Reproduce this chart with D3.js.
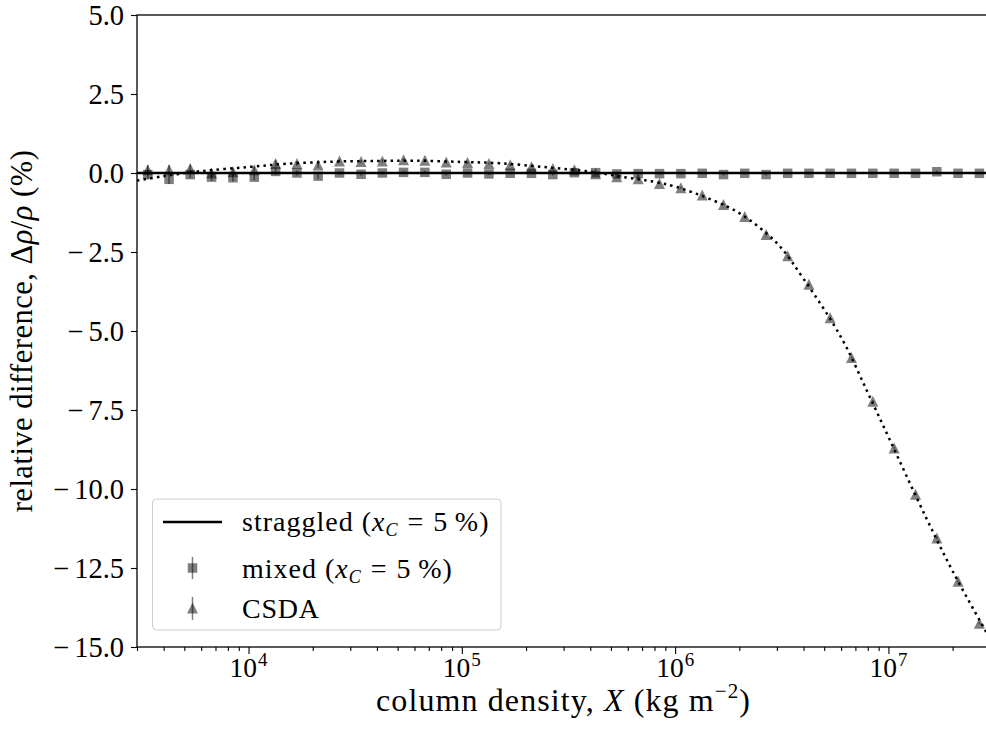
<!DOCTYPE html>
<html>
<head>
<meta charset="utf-8">
<script src="https://cdn.jsdelivr.net/npm/d3@7"></script>
<style>
  html, body { margin: 0; padding: 0; background: #fff; }
  svg { display: block; }
  svg text { font-family: "Liberation Serif", serif; fill: #000; }
</style>
</head>
<body>
<svg id="chart" width="986" height="734"></svg>
<script>
// ---------------- data ----------------
const columnDensity = [3.37e3, 4.24e3, 5.33e3, 6.71e3, 8.45e3, 1.064e4, 1.34e4, 1.686e4, 2.12e4, 2.67e4,
  3.37e4, 4.24e4, 5.33e4, 6.71e4, 8.45e4, 1.064e5, 1.34e5, 1.686e5, 2.12e5, 2.67e5,
  3.37e5, 4.24e5, 5.33e5, 6.71e5, 8.45e5, 1.064e6, 1.34e6, 1.686e6, 2.12e6, 2.67e6,
  3.37e6, 4.24e6, 5.33e6, 6.71e6, 8.45e6, 1.064e7, 1.34e7, 1.686e7, 2.12e7, 2.67e7];
const mixedValues = [-0.05, -0.2, -0.05, -0.13, -0.15, -0.13, 0.05, 0.0, -0.1, 0.0,
  -0.04, 0.0, 0.02, 0.02, -0.04, 0.0, -0.03, -0.01, -0.01, -0.05,
  0.01, 0.01, -0.03, -0.02, -0.02, -0.02, -0.01, -0.05, -0.01, -0.05,
  -0.01, -0.01, -0.01, -0.01, -0.01, -0.01, -0.01, 0.04, -0.01, -0.01];
const mixedErrors = [0.15, 0.15, 0.12, 0.12, 0.12, 0.1, 0.1, 0.08, 0.08, 0.06,
  0.05, 0.05, 0.05, 0.04, 0.04, 0.04, 0.03, 0.03, 0.03, 0.03,
  0.03, 0.03, 0.03, 0.03, 0.03, 0.03, 0.03, 0.03, 0.03, 0.03,
  0.03, 0.03, 0.03, 0.03, 0.03, 0.03, 0.03, 0.03, 0.03, 0.03];
const csdaValues = [0.1, 0.1, 0.14, 0.0, 0.04, 0.1, 0.3, 0.3, 0.25, 0.38,
  0.36, 0.38, 0.42, 0.4, 0.35, 0.33, 0.3, 0.26, 0.2, 0.14,
  0.1, -0.02, -0.12, -0.18, -0.33, -0.47, -0.7, -1.0, -1.38, -1.95,
  -2.62, -3.52, -4.58, -5.84, -7.22, -8.7, -10.17, -11.55, -12.92, -14.25];
const csdaErrors = [0.15, 0.15, 0.12, 0.12, 0.12, 0.1, 0.1, 0.08, 0.08, 0.06,
  0.05, 0.05, 0.05, 0.04, 0.04, 0.04, 0.03, 0.03, 0.03, 0.03,
  0.03, 0.03, 0.03, 0.03, 0.03, 0.03, 0.03, 0.03, 0.03, 0.03,
  0.03, 0.03, 0.03, 0.03, 0.03, 0.03, 0.03, 0.03, 0.03, 0.03];
const straggledX = [3.0e3, 3.0e7];
const straggledValues = [0.0, 0.0];
const fitX = [3.0e3, 4.0e3, 6.0e3, 1.0e4, 1.5e4, 2.5e4, 4.0e4, 6.0e4, 1.0e5, 1.5e5, 2.5e5, 4.0e5,
  6.0e5, 8.0e5, 1.0e6, 1.5e6, 2.0e6, 3.0e6, 4.0e6, 6.0e6, 8.0e6, 1.0e7, 1.5e7, 2.0e7, 3.0e7];
const fitValues = [-0.24, -0.1, 0.06, 0.19, 0.29, 0.36, 0.38, 0.39, 0.35, 0.31, 0.18, 0.04,
  -0.15, -0.28, -0.43, -0.86, -1.27, -2.22, -3.35, -5.2, -6.95, -8.35, -10.9, -12.6, -14.75];
const yTicks = [5.0, 2.5, 0.0, -2.5, -5.0, -7.5, -10.0, -12.5, -15.0];
const xMajorTicks = [1e4, 1e5, 1e6, 1e7];
const xMajorExponents = ["4", "5", "6", "7"];
const xMinorTicks = [3e3, 4e3, 5e3, 6e3, 7e3, 8e3, 9e3, 2e4, 3e4, 4e4, 5e4, 6e4, 7e4, 8e4, 9e4,
  2e5, 3e5, 4e5, 5e5, 6e5, 7e5, 8e5, 9e5, 2e6, 3e6, 4e6, 5e6, 6e6, 7e6, 8e6, 9e6, 2e7];

// ---------------- layout ----------------
const svg = d3.select("#chart");
const L = 137, R = 990.2, T = 15, B = 647;
const x = d3.scaleLog().domain([3e3, 3e7]).range([L, R]);
const y = d3.scaleLinear().domain([-15, 5]).range([B, T]);
const SERIF = "Liberation Serif";

svg.append("defs").append("clipPath").attr("id", "clip")
  .append("rect").attr("x", L).attr("y", T).attr("width", R - L).attr("height", B - T);

// axes
const gx = svg.append("g").attr("transform", `translate(0,${B})`)
  .call(d3.axisBottom(x).tickValues(xMajorTicks).tickFormat("").tickSize(7));
const gxm = svg.append("g").attr("transform", `translate(0,${B})`)
  .call(d3.axisBottom(x).tickValues(xMinorTicks).tickFormat("").tickSize(4));
const gy = svg.append("g").attr("transform", `translate(${L},0)`)
  .call(d3.axisLeft(y).tickValues(yTicks).tickFormat("").tickSize(6));
[gx, gxm, gy].forEach(g => {
  g.attr("font-family", SERIF);
  g.select(".domain").remove();
  g.selectAll(".tick line").attr("stroke", "#000").attr("stroke-width", 1.1);
  g.selectAll(".tick text").remove();
});

// y tick labels (wide TeX-like minus)
yTicks.forEach(v => {
  const t = svg.append("text").attr("x", 124).attr("y", y(v) + 9.5).attr("text-anchor", "end")
    .attr("font-size", 28.5).attr("font-family", SERIF);
  if (v < 0) {
    t.append("tspan").text("\u2212");
    t.append("tspan").attr("dx", 5).text(Math.abs(v).toFixed(1));
  } else {
    t.append("tspan").text(v.toFixed(1));
  }
});

// x tick labels with superscripts
xMajorTicks.forEach((v, i) => {
  const t = svg.append("text").attr("x", x(v)).attr("y", 677).attr("text-anchor", "middle")
    .attr("font-size", 27.5).attr("font-family", SERIF);
  t.append("tspan").text("10");
  t.append("tspan").attr("font-size", 19).attr("dy", -11).attr("dx", 1).text(xMajorExponents[i]);
});

// spines
svg.append("rect").attr("x", L).attr("y", T).attr("width", R - L).attr("height", B - T)
  .attr("fill", "none").attr("stroke", "#000").attr("stroke-width", 1.3);

const plot = svg.append("g").attr("clip-path", "url(#clip)");

// straggled line
const line = d3.line().x(d => x(d[0])).y(d => y(d[1]));
plot.append("path")
  .datum(straggledX.map((v, i) => [v, straggledValues[i]]))
  .attr("d", line).attr("fill", "none").attr("stroke", "#000").attr("stroke-width", 2.6);

// fit dotted curve
plot.append("path")
  .datum(fitX.map((v, i) => [v, fitValues[i]]))
  .attr("d", d3.line().x(d => x(d[0])).y(d => y(d[1])).curve(d3.curveCatmullRom.alpha(0.5)))
  .attr("fill", "none").attr("stroke", "#000").attr("stroke-width", 2.5)
  .attr("stroke-dasharray", "2.5,4.2");

// mixed squares with error bars
const mixed = plot.append("g").attr("opacity", 0.5);
columnDensity.forEach((v, i) => {
  mixed.append("line").attr("x1", x(v)).attr("x2", x(v))
    .attr("y1", y(mixedValues[i] - mixedErrors[i])).attr("y2", y(mixedValues[i] + mixedErrors[i]))
    .attr("stroke", "#000").attr("stroke-width", 1.5);
});
const sq = 9.5;
plot.append("g").selectAll("rect").data(columnDensity).join("rect")
  .attr("x", d => x(d) - sq / 2).attr("y", (d, i) => y(mixedValues[i]) - sq / 2)
  .attr("width", sq).attr("height", sq).attr("fill", "#000").attr("fill-opacity", 0.5);

// CSDA triangles with error bars
const csda = plot.append("g").attr("opacity", 0.5);
columnDensity.forEach((v, i) => {
  csda.append("line").attr("x1", x(v)).attr("x2", x(v))
    .attr("y1", y(csdaValues[i] - csdaErrors[i])).attr("y2", y(csdaValues[i] + csdaErrors[i]))
    .attr("stroke", "#000").attr("stroke-width", 1.5);
});
const tri = 11;
const triPath = `M0,${-tri / 2}L${-tri / 2},${tri / 2}L${tri / 2},${tri / 2}Z`;
plot.append("g").selectAll("path").data(columnDensity).join("path")
  .attr("d", triPath)
  .attr("transform", (d, i) => `translate(${x(d)},${y(csdaValues[i])})`)
  .attr("fill", "#000").attr("fill-opacity", 0.5);

// axis labels
const xl = svg.append("text").attr("x", (L + R) / 2).attr("y", 711).attr("text-anchor", "middle")
  .attr("font-size", 32).attr("letter-spacing", 1.1).attr("font-family", SERIF);
xl.append("tspan").text("column density, ");
xl.append("tspan").attr("font-style", "italic").text("X");
xl.append("tspan").text(" (kg m");
xl.append("tspan").attr("font-size", 21).attr("dy", -13).text("\u22122");
xl.append("tspan").attr("dy", 13).text(")");

const yl = svg.append("text").attr("transform", `translate(32,${(T + B) / 2}) rotate(-90)`)
  .attr("text-anchor", "middle").attr("font-size", 30.5).attr("letter-spacing", 0.5)
  .attr("font-family", SERIF);
yl.append("tspan").text("relative difference, \u0394");
yl.append("tspan").attr("font-style", "italic").text("\u03c1");
yl.append("tspan").text("/");
yl.append("tspan").attr("font-style", "italic").text("\u03c1");
yl.append("tspan").text(" (%)");

// legend
const lg = svg.append("g");
lg.append("rect").attr("x", 152.5).attr("y", 499).attr("width", 348.5).attr("height", 131)
  .attr("rx", 4).attr("fill", "#fff").attr("fill-opacity", 0.8)
  .attr("stroke", "#cccccc").attr("stroke-width", 1);
lg.append("line").attr("x1", 163).attr("x2", 222).attr("y1", 522).attr("y2", 522)
  .attr("stroke", "#000").attr("stroke-width", 2.6);
lg.append("line").attr("x1", 192.5).attr("x2", 192.5).attr("y1", 557).attr("y2", 579)
  .attr("stroke", "#000").attr("stroke-width", 1.5).attr("opacity", 0.5);
lg.append("rect").attr("x", 192.5 - sq / 2).attr("y", 568 - sq / 2).attr("width", sq).attr("height", sq)
  .attr("fill", "#000").attr("fill-opacity", 0.5);
lg.append("line").attr("x1", 192.5).attr("x2", 192.5).attr("y1", 597).attr("y2", 620)
  .attr("stroke", "#000").attr("stroke-width", 1.5).attr("opacity", 0.5);
lg.append("path").attr("d", triPath).attr("transform", "translate(192.5,608)")
  .attr("fill", "#000").attr("fill-opacity", 0.5);

function legendText(yy, main) {
  const t = lg.append("text").attr("x", 242).attr("y", yy).attr("font-size", 28)
    .attr("letter-spacing", 1.0).attr("font-family", SERIF);
  t.append("tspan").text(main + " (");
  t.append("tspan").attr("font-style", "italic").text("x");
  t.append("tspan").attr("font-style", "italic").attr("font-size", 18).attr("dy", 5).text("C");
  t.append("tspan").attr("dy", -5).attr("dx", 9).text("=");
  t.append("tspan").attr("dx", 9).text("5\u2009%)");
}
legendText(531, "straggled");
legendText(578, "mixed");
lg.append("text").attr("x", 242).attr("y", 618).attr("font-size", 28).attr("letter-spacing", 0.8)
  .attr("font-family", SERIF).text("CSDA");
</script>
</body>
</html>
